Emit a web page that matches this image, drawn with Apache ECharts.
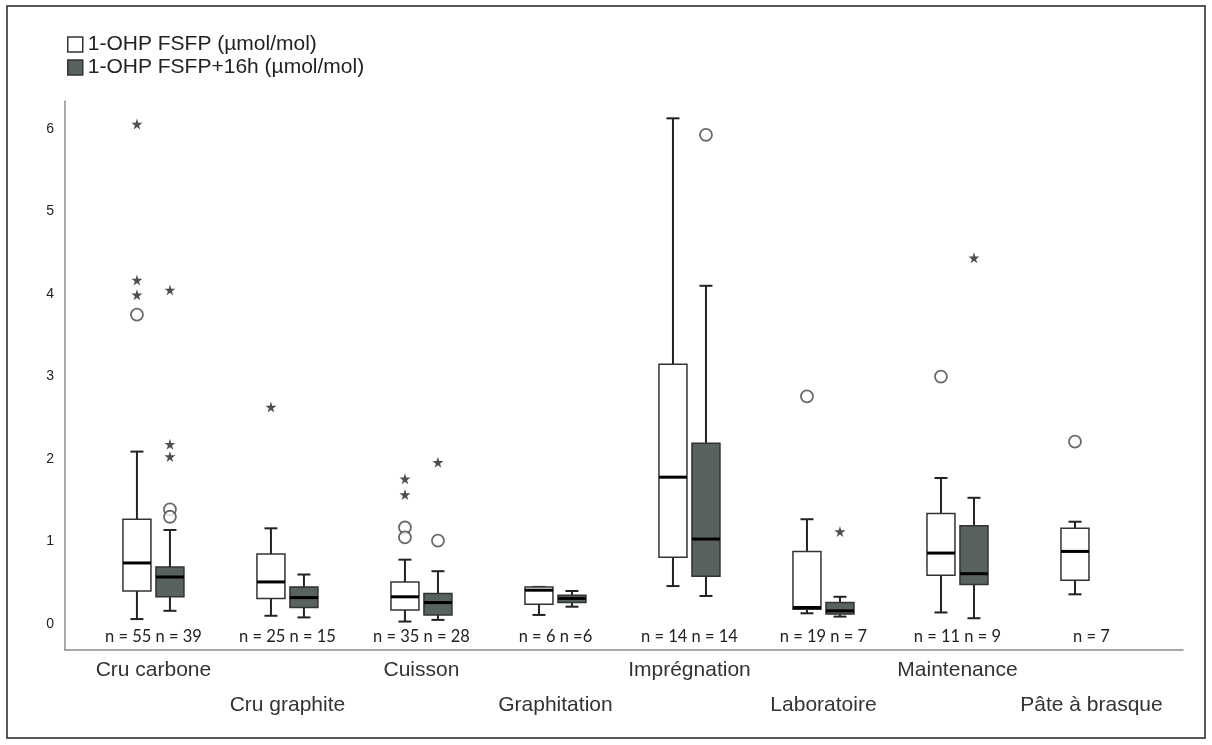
<!DOCTYPE html>
<html>
<head>
<meta charset="utf-8">
<script src="https://cdn.jsdelivr.net/npm/echarts@6/dist/echarts.min.js"></script>
<style>
  html, body { margin: 0; padding: 0; background: #fff; }
  #chart { width: 1212px; height: 745px; }
</style>
</head>
<body>
<div id="chart"></div>
<script>
// catégories (axe x) et effectifs
const categories = ['Cru carbone', 'Cru graphite', 'Cuisson', 'Graphitation', 'Imprégnation', 'Laboratoire', 'Maintenance', 'Pâte à brasque'];
const nLabels = ['n = 55 n = 39', 'n = 25 n = 15', 'n = 35 n = 28', 'n = 6 n =6', 'n = 14 n = 14', 'n = 19 n = 7', 'n = 11 n = 9', 'n = 7'];
const yTicks = [0, 1, 2, 3, 4, 5, 6];

const seriesNames = ['1-OHP FSFP (µmol/mol)', '1-OHP FSFP+16h (µmol/mol)'];

// [min, Q1, médiane, Q3, max]
const boxFSFP = [
    [0.06, 0.40, 0.74, 1.27, 2.09],
    [0.10, 0.31, 0.51, 0.85, 1.16],
    [0.03, 0.17, 0.33, 0.51, 0.78],
    [0.11, 0.24, 0.41, 0.45, 0.45],
    [0.46, 0.81, 1.78, 3.15, 6.13],
    [0.13, 0.18, 0.20, 0.88, 1.27],
    [0.14, 0.59, 0.86, 1.34, 1.77],
    [0.36, 0.53, 0.88, 1.16, 1.24],
];
const box16h = [
    [0.16, 0.33, 0.57, 0.69, 1.14],
    [0.08, 0.20, 0.32, 0.45, 0.60],
    [0.05, 0.11, 0.26, 0.37, 0.64],
    [0.21, 0.26, 0.31, 0.35, 0.40],
    [0.34, 0.58, 1.03, 2.19, 4.10],
    [0.09, 0.12, 0.16, 0.26, 0.33],
    [0.07, 0.48, 0.61, 1.19, 1.53],
    null,
];

// valeurs atypiques : [catégorie, valeur]
const circlesFSFP = [[0, 3.75], [2, 1.17], [2, 1.05], [5, 2.76], [6, 3.00], [7, 2.21]];
const starsFSFP = [[0, 6.06], [0, 4.17], [0, 3.99], [1, 2.63], [2, 1.76], [2, 1.57]];
const circles16h = [[0, 1.39], [0, 1.30], [2, 1.01], [4, 5.93]];
const stars16h = [[0, 4.05], [0, 2.18], [0, 2.03], [2, 1.96], [5, 1.12], [6, 4.44]];


const DARK = '#58635d';
const SHIFT = 16.5;      // décalage horizontal des boîtes (px)
const BOX_W = 28;
const CAP_W = 13;
const STAR = 'path://M50,0 L61,35 L98,35 L68,57 L79,91 L50,70 L21,91 L32,57 L2,35 L39,35 Z';

function toBoxData(list) {
    const out = [];
    list.forEach((b, i) => {
        if (b) out.push([i].concat(b));
    });
    return out;
}

function makeRender(offset, fill) {
    return function (params, api) {
        const i = api.value(0);
        const cx = api.coord([i, 0])[0] + offset;
        const yMin = api.coord([i, api.value(1)])[1];
        const yQ1 = api.coord([i, api.value(2)])[1];
        const yMed = api.coord([i, api.value(3)])[1];
        const yQ3 = api.coord([i, api.value(4)])[1];
        const yMax = api.coord([i, api.value(5)])[1];
        const line = { stroke: '#222', lineWidth: 2 };
        return {
            type: 'group',
            children: [
                { type: 'line', shape: { x1: cx, y1: yQ3, x2: cx, y2: yMax }, style: line },
                { type: 'line', shape: { x1: cx - CAP_W / 2, y1: yMax, x2: cx + CAP_W / 2, y2: yMax }, style: line },
                { type: 'line', shape: { x1: cx, y1: yQ1, x2: cx, y2: yMin }, style: line },
                { type: 'line', shape: { x1: cx - CAP_W / 2, y1: yMin, x2: cx + CAP_W / 2, y2: yMin }, style: line },
                {
                    type: 'rect',
                    shape: { x: cx - BOX_W / 2, y: yQ3, width: BOX_W, height: yQ1 - yQ3 },
                    style: { fill: fill, stroke: '#333', lineWidth: 1.5 }
                },
                { type: 'line', shape: { x1: cx - BOX_W / 2, y1: yMed, x2: cx + BOX_W / 2, y2: yMed }, style: { stroke: '#000', lineWidth: 3 } },
            ]
        };
    };
}

function outliers(data, symbol, offset, isStar) {
    return {
        type: 'scatter',
        data: data,
        symbol: symbol,
        symbolSize: isStar ? 11 : 12,
        symbolOffset: [offset, 0],
        itemStyle: isStar
            ? { color: '#222' }
            : { color: '#fff', borderColor: '#444', borderWidth: 1.8 },
        z: 5,
        silent: true,
    };
}

const xMin = -0.66, xMax = 7.683;
const catIdx = categories.map((c, i) => i);

const chart = echarts.init(document.getElementById('chart'));

const option = {
    animation: false,
    backgroundColor: '#fff',
    textStyle: { fontFamily: 'Liberation Sans, Arial, sans-serif' },
    grid: { left: 65, right: 29, top: 101, bottom: 95 },
    legend: {
        orient: 'vertical',
        left: 67,
        top: 34,
        itemWidth: 15,
        itemHeight: 15,
        itemGap: 2,
        padding: 0,
        textStyle: { fontSize: 21, color: '#222' },
        data: [
            { name: seriesNames[0], icon: 'rect', itemStyle: { color: '#fff', borderColor: '#333', borderWidth: 1.5 } },
            { name: seriesNames[1], icon: 'rect', itemStyle: { color: DARK, borderColor: '#333', borderWidth: 1.5 } },
        ],
    },
    xAxis: [
        {
            type: 'value', min: xMin, max: xMax, position: 'bottom',
            axisLine: { show: true, onZero: false, lineStyle: { color: '#8a8a8a', width: 1.5 } },
            axisTick: { show: false },
            splitLine: { show: false },
            axisLabel: {
                customValues: catIdx,
                margin: 3,
                fontSize: 21,
                lineHeight: 35,
                color: '#333',
                formatter: (v) => (v % 2 ? '\n' : '') + categories[v],
            },
        },
        {
            type: 'value', min: xMin, max: xMax, position: 'bottom',
            axisLine: { show: false, onZero: false },
            axisTick: { show: false },
            splitLine: { show: false },
            axisLabel: {
                inside: true,
                customValues: catIdx,
                margin: 5,
                fontSize: 16.5,
                fontFamily: 'Lato',
                color: '#222',
                formatter: (v) => nLabels[v],
            },
        },
    ],
    yAxis: {
        type: 'value', min: -0.315, max: 6.34,
        axisLine: { show: true, onZero: false, lineStyle: { color: '#8a8a8a', width: 1.5 } },
        axisTick: { show: false },
        splitLine: { show: false },
        axisLabel: { customValues: yTicks, margin: 11, fontSize: 14, color: '#222' },
    },
    series: [
        {
            name: seriesNames[0],
            type: 'custom',
            data: toBoxData(boxFSFP),
            encode: { x: 0, y: [1, 2, 3, 4, 5] },
            itemStyle: { color: '#fff', borderColor: '#333' },
            renderItem: makeRender(-SHIFT, '#fff'),
            silent: true,
        },
        {
            name: seriesNames[1],
            type: 'custom',
            data: toBoxData(box16h),
            encode: { x: 0, y: [1, 2, 3, 4, 5] },
            itemStyle: { color: DARK, borderColor: '#333' },
            renderItem: makeRender(SHIFT, DARK),
            silent: true,
        },
        outliers(circlesFSFP, 'circle', -SHIFT, false),
        outliers(starsFSFP, STAR, -SHIFT, true),
        outliers(circles16h, 'circle', SHIFT, false),
        outliers(stars16h, STAR, SHIFT, true),
    ],
    graphic: [
        {
            type: 'rect',
            silent: true,
            shape: { x: 7, y: 6, width: 1198, height: 732 },
            style: { fill: 'none', stroke: '#222', lineWidth: 1.5 },
        },
    ],
};

chart.setOption(option);
</script>
</body>
</html>
